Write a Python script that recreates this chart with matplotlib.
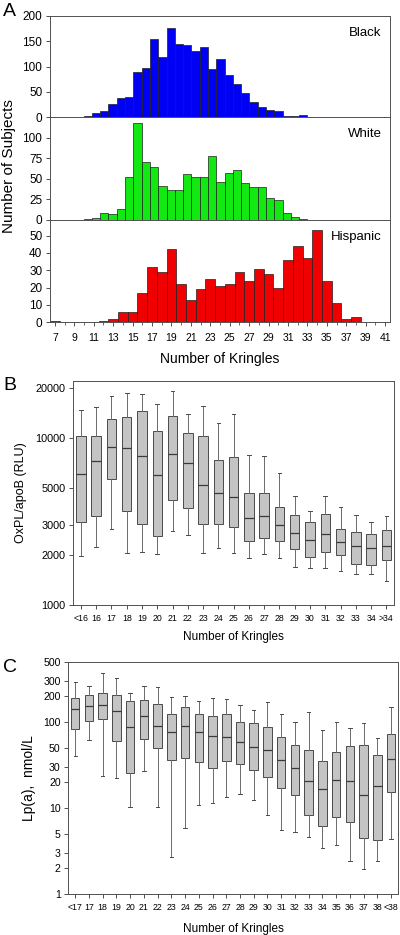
import matplotlib
matplotlib.use("Agg")
import matplotlib.pyplot as plt
import numpy as np

plt.rcParams['font.family'] = ['Liberation Sans', 'DejaVu Sans']

# ---------------- Panel A data ----------------
black_start = 8
black_counts = [1, 2, 8, 13, 27, 39, 41, 90, 97, 154, 120, 176, 144, 142, 131, 139, 96,
                115, 84, 66, 47, 31, 20, 15, 12, 3, 2, 5, 1]
white_start = 9
white_counts = [1, 3, 8, 7, 13, 52, 118, 71, 64, 41, 36, 37, 56, 52, 52, 78, 46, 57, 61,
                45, 40, 40, 27, 24, 9, 4, 1, 0.5]
hisp_kringles = [7, 12, 13, 14, 15, 16, 17, 18, 19, 20, 21, 22, 23, 24, 25, 26, 27, 28, 29,
                 30, 31, 32, 33, 34, 35, 36, 37, 38]
hisp_counts = [1, 1, 2, 6, 6, 17, 32, 29, 42, 22, 13, 19, 25, 21, 22, 29, 24, 31, 28,
               20, 36, 44, 37, 53, 24, 11, 2, 3]

# ---------------- Panel B data ----------------
b_labels = ['<16', '16', '17', '18', '19', '20', '21', '22', '23', '24', '25', '26', '27',
            '28', '29', '30', '31', '32', '33', '34', '>34']
b_whislo = [1960, 2240, 2840, 2060, 2070, 2030, 2770, 2620, 2040, 2200, 2040, 1920, 2030,
            1905, 1680, 1660, 1670, 1590, 1535, 1530, 1390]
b_q1 = [3130, 3400, 5680, 3650, 3050, 2590, 4250, 3800, 3060, 3060, 2920, 2410, 2510,
        2410, 2160, 1930, 2070, 2000, 1750, 1740, 1850]
b_med = [6130, 7310, 8870, 8750, 7800, 6030, 8020, 7080, 5250, 4700, 4450, 3340, 3400,
         3010, 2690, 2440, 2660, 2370, 2260, 2190, 2250]
b_q3 = [10300, 10230, 13050, 13420, 14520, 11110, 13550, 10710, 10320, 7380, 7690, 4680,
        4700, 3870, 3450, 3150, 3500, 2870, 2730, 2670, 2800]
b_whishi = [14700, 15350, 17860, 18520, 18270, 15990, 19220, 13930, 15480, 12300, 13930,
            7910, 7800, 6220, 4530, 3650, 4470, 3890, 3470, 3160, 3420]

# ---------------- Panel C data ----------------
c_labels = ['<17', '17', '18', '19', '20', '21', '22', '23', '24', '25', '26', '27', '28',
            '29', '30', '31', '32', '33', '34', '35', '36', '37', '38', '<38']
c_whislo = [40.4, 62.1, 23.6, 22.4, 10.3, 27.0, 10.3, 2.7, 5.9, 10.7, 11.3, 13.4, 14.6,
            12.4, 8.35, 5.5, 5.2, 4.6, 3.4, 3.7, 2.43, 1.96, 2.43, 4.34]
c_q1 = [82.6, 102.6, 107, 60.4, 25.8, 63.8, 49.6, 36.3, 38.3, 34.4, 29.3, 35.0, 32.0,
        27.5, 22.8, 17.1, 14.0, 8.35, 6.1, 7.85, 6.86, 4.46, 4.19, 15.5]
c_med = [140, 151, 155, 132, 86.5, 117, 89.7, 77, 89.7, 77, 67.9, 67.3, 58.9, 51.4, 47,
         36.3, 29.3, 20.6, 16.7, 21.2, 20.6, 14.3, 17.9, 36.6]
c_q3 = [188, 203, 214, 203, 175, 180, 160, 125, 147, 123, 118, 123, 98.9, 98, 88, 66.1,
        53.8, 47.5, 35.3, 45, 52.4, 53.8, 41.5, 73]
c_whishi = [287, 260, 366, 323, 216, 260, 256, 197, 201, 177, 190, 182, 158, 139, 168,
            122, 100, 129, 80.5, 100, 85.8, 98, 65.6, 147]

W, H = 400, 935
fig = plt.figure(figsize=(W / 100, H / 100), dpi=100)


def fx(px):
    return px / W


def fy(top_px, bot_px):
    return 1 - bot_px / H, (bot_px - top_px) / H


frame_col = '#505050'

# ---------------- Panel A ----------------
a_left, a_right = 50, 390
rows = [(16, 117.3), (117.3, 220), (220, 322.3)]
specs = [
    (np.arange(black_start, black_start + len(black_counts)), black_counts, '#0000f5',
     'Black', 200, [0, 50, 100, 150, 200], (4.45, 45.45)),
    (np.arange(white_start, white_start + len(white_counts)), white_counts, '#12e812',
     'White', 125, [0, 25, 50, 75, 100], (4.45, 45.45)),
    (np.array(hisp_kringles), hisp_counts, '#f00000', 'Hispanic', 59,
     [0, 10, 20, 30, 40, 50], (6.5, 41.5)),
]
axes_a = []
for (top, bot), (xs, ys, col, name, ymax, yt, xl) in zip(rows, specs):
    b, h = fy(top, bot)
    ax = fig.add_axes([fx(a_left), b, fx(a_right - a_left), h])
    ax.bar(xs, ys, width=1.0, color=col, edgecolor='#202020', linewidth=0.5)
    ax.set_xlim(*xl)
    ax.set_ylim(0, ymax)
    ax.set_yticks(yt)
    ax.tick_params(axis='y', labelsize=8.5, length=3, width=0.6, colors='#333333',
                   labelcolor='black', pad=2.5)
    ax.text(0.975, 0.835, name, transform=ax.transAxes, ha='right', va='center', fontsize=9.5)
    for s in ax.spines.values():
        s.set_color(frame_col)
        s.set_linewidth(0.7)
    axes_a.append(ax)

for ax in axes_a[:2]:
    ax.set_xticks([])
axh = axes_a[2]
axh.set_xticks(np.arange(7, 42, 2))
axh.set_xticks(np.arange(8, 41, 2), minor=True)
axh.tick_params(axis='x', which='major', labelsize=7.5, length=3, width=0.6, colors='#333333',
                labelcolor='black', pad=5)
axh.tick_params(axis='x', which='minor', length=2, width=0.5, colors='#333333')
axh.set_xlabel('Number of Kringles', fontsize=10, labelpad=6)
fig.text(fx(9), 1 - 166 / H, 'Number of Subjects', rotation=90, ha='center', va='center',
         fontsize=11)
fig.text(fx(3), 1 - 12 / H, 'A', fontsize=14, ha='left', va='center')


# ---------------- box helper ----------------
def draw_boxes(ax, labels, lo, q1, med, q3, hi):
    stats = []
    for i in range(len(labels)):
        stats.append(dict(whislo=lo[i], q1=q1[i], med=med[i], q3=q3[i], whishi=hi[i],
                          label=labels[i], fliers=[]))
    ax.bxp(stats, positions=np.arange(len(labels)), widths=0.62, patch_artist=True,
           showfliers=False, capwidths=0.24,
           boxprops=dict(facecolor='#c4c4c4', edgecolor='#4a4a4a', linewidth=0.7),
           medianprops=dict(color='#3a3a3a', linewidth=0.9),
           whiskerprops=dict(color='#6a6a6a', linewidth=0.7),
           capprops=dict(color='#4a4a4a', linewidth=0.7))
    ax.set_xlim(-0.5, len(labels) - 0.5)
    ax.set_yscale('log')
    for s in ax.spines.values():
        s.set_color(frame_col)
        s.set_linewidth(0.7)


# ---------------- Panel B ----------------
b, h = fy(381, 605)
axB = fig.add_axes([fx(73.3), b, fx(394 - 73.3), h])
draw_boxes(axB, b_labels, b_whislo, b_q1, b_med, b_q3, b_whishi)
axB.set_ylim(1000, 22000)
axB.set_yticks([1000, 2000, 3000, 5000, 10000, 20000])
axB.set_yticklabels(['1000', '2000', '3000', '5000', '10000', '20000'])
axB.yaxis.set_minor_locator(matplotlib.ticker.NullLocator())
axB.set_xticks(np.arange(len(b_labels)))
axB.set_xticklabels(b_labels)
axB.tick_params(axis='x', labelsize=6.3, length=3, width=0.6, colors='#333333',
                labelcolor='black')
axB.tick_params(axis='y', labelsize=7.8, length=3, width=0.6, colors='#333333',
                labelcolor='black', pad=2.5)
axB.set_ylabel('OxPL/apoB (RLU)', fontsize=9, labelpad=6)
axB.set_xlabel('Number of Kringles', fontsize=8.5, labelpad=6)
fig.text(fx(3), 1 - 386 / H, 'B', fontsize=14, ha='left', va='center')

# ---------------- Panel C ----------------
b, h = fy(661.7, 894)
axC = fig.add_axes([fx(68.3), b, fx(398 - 68.3), h])
draw_boxes(axC, c_labels, c_whislo, c_q1, c_med, c_q3, c_whishi)
axC.set_ylim(1, 500)
yt = [1, 2, 3, 5, 10, 20, 30, 50, 100, 200, 300, 500]
axC.set_yticks(yt)
axC.set_yticklabels([str(v) for v in yt])
axC.yaxis.set_minor_locator(matplotlib.ticker.NullLocator())
axC.set_xticks(np.arange(len(c_labels)))
axC.set_xticklabels(c_labels)
axC.tick_params(axis='x', labelsize=6.3, length=3, width=0.6, colors='#333333',
                labelcolor='black')
axC.tick_params(axis='y', labelsize=7.6, length=3, width=0.6, colors='#333333',
                labelcolor='black', pad=2.5)
axC.set_ylabel('Lp(a),  nmol/L', fontsize=10, labelpad=5)
axC.set_xlabel('Number of Kringles', fontsize=8.5, labelpad=8)
fig.text(fx(3), 1 - 667 / H, 'C', fontsize=14, ha='left', va='center')

fig.savefig('out.png', dpi=100)
